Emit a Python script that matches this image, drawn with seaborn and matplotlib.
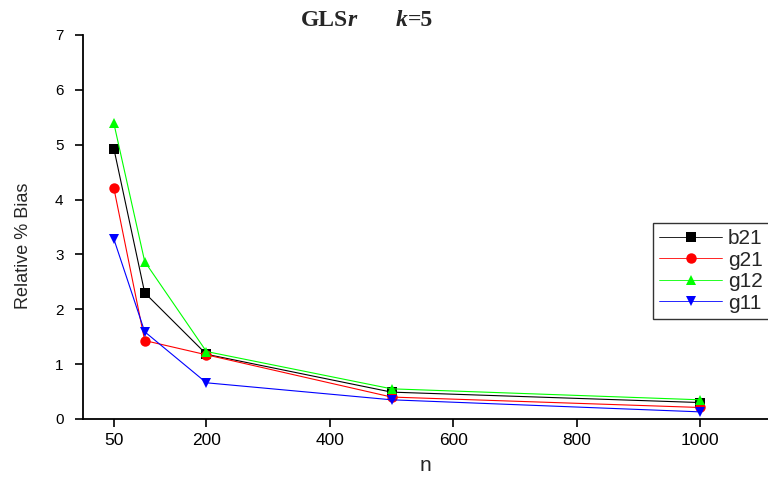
import matplotlib
matplotlib.use("Agg")
import matplotlib.pyplot as plt
import seaborn as sns
import pandas as pd

n_values = [50, 100, 200, 500, 1000]
b21 = [4.93, 2.30, 1.18, 0.49, 0.30]
g21 = [4.21, 1.43, 1.17, 0.40, 0.21]
g12 = [5.39, 2.87, 1.23, 0.55, 0.35]
g11 = [3.28, 1.59, 0.66, 0.35, 0.13]
series_names = ["b21", "g21", "g12", "g11"]
x_ticks = [50, 200, 400, 600, 800, 1000]
y_ticks = [0, 1, 2, 3, 4, 5, 6, 7]

sns.set_theme(style="white")
plt.rcParams['font.family'] = ['Liberation Sans', 'DejaVu Sans']

rows = []
for name, vals in zip(series_names, [b21, g21, g12, g11]):
    for x, y in zip(n_values, vals):
        rows.append({"n": x, "value": y, "series": name})
df = pd.DataFrame(rows)

palette = {"b21": "#000000", "g21": "#ff0000", "g12": "#00ff00", "g11": "#0000ff"}
markers = {"b21": "s", "g21": "o", "g12": "^", "g11": "v"}

fig = plt.figure(figsize=(7.68, 4.8), dpi=100)
ax = fig.add_axes([83/768, 61/480, 1 - 83/768, (419-35)/480])

sns.lineplot(data=df, x="n", y="value", hue="series", style="series",
             palette=palette, markers=markers, dashes=False, ax=ax,
             linewidth=0.8, markersize=7.5, markeredgewidth=0,
             hue_order=series_names, style_order=series_names)

ax.set_xlim(0, 1110)
ax.set_ylim(0, 7)
ax.set_xticks(x_ticks)
ax.set_xticklabels([str(t) for t in x_ticks])
ax.set_yticks(y_ticks)
ax.set_yticklabels([str(t) for t in y_ticks])
for s in ["top", "right"]:
    ax.spines[s].set_visible(False)
for s in ["left", "bottom"]:
    ax.spines[s].set_color("black")
    ax.spines[s].set_linewidth(1.3)
ax.tick_params(axis="both", direction="out", length=6, width=1.2,
               colors="black", bottom=True, left=True)
ax.tick_params(axis="x", labelsize=12.5, pad=4)
ax.tick_params(axis="y", labelsize=11, pad=8)
ax.set_xlabel("n", fontsize=15, labelpad=6)
ax.set_ylabel("Relative % Bias", fontsize=13)
ax.yaxis.set_label_coords((32 - 83) / 685, (419 - 246) / 384)

leg = ax.legend(loc="upper left", bbox_to_anchor=(653/768, 1 - 223/480),
                bbox_transform=fig.transFigure, borderaxespad=0,
                fontsize=15, handlelength=3.0, handletextpad=0.3,
                labelspacing=0.12, frameon=True, fancybox=False,
                borderpad=0.3, markerscale=1.0, title=None)
leg.get_frame().set_edgecolor("black")
leg.get_frame().set_linewidth(1.0)
for h in leg.get_lines():
    h.set_linewidth(0.6)

title_font = dict(family=['Liberation Serif', 'DejaVu Serif'], fontsize=17,
                  va="center")
ty = 1 - 20/480
fig.text(348/768, ty, "GLS", fontweight="bold", ha="right", **title_font)
fig.text(348/768, ty, "r", fontweight="bold", style="italic", ha="left", **title_font)
fig.text(408/768, ty, "k", fontweight="bold", style="italic", ha="right", **title_font)
fig.text(408/768, ty, "=5", fontweight="bold", ha="left", **title_font)

fig.savefig("out.png", dpi=100, facecolor="white")
